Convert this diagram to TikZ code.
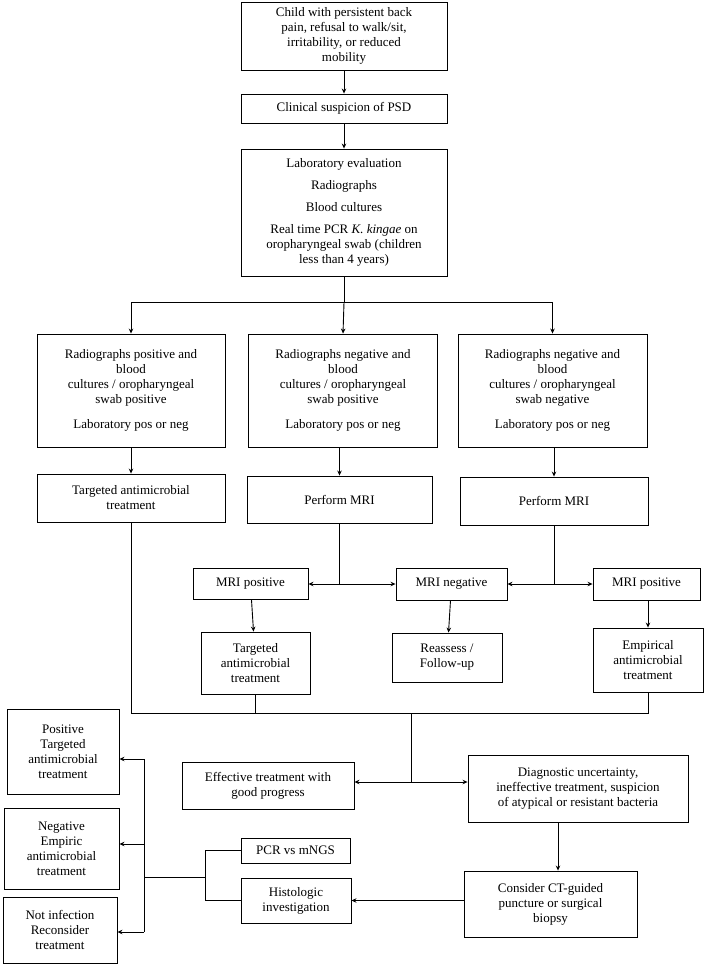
\documentclass[tikz,border=0pt]{standalone}
\usepackage{fontspec}
\setmainfont{Liberation Serif}
\usetikzlibrary{arrows.meta}
\begin{document}
\begin{tikzpicture}[x=1pt,y=-1pt,
  box/.style={draw,line width=0.9pt,align=center,inner sep=1pt,font=\fontsize{13}{15}\selectfont},
  ln/.style={line width=0.9pt},
  arr/.style={ln,-{Stealth[length=5pt,width=4.5pt]}},
  darr/.style={ln,{Stealth[length=5pt,width=4.5pt]}-{Stealth[length=5pt,width=4.5pt]}}]
\useasboundingbox (0,0) rectangle (709,966);
\newcommand{\bx}[6]{\node[box,minimum width=#4,minimum height=#5] (#1) at (#2,#3) {#6};}
\bx{top}{344}{36}{206}{68}{Child with persistent back\\pain, refusal to walk/sit,\\irritability, or reduced\\mobility}
\bx{clin}{344}{108.5}{206}{29}{Clinical suspicion of PSD}
\bx{lab}{344}{212.5}{206}{127}{Laboratory evaluation\\[7pt]Radiographs\\[7pt]Blood cultures\\[7pt]Real time PCR \textit{K. kingae} on\\oropharyngeal swab (children\\less than 4 years)}
\bx{r1}{131}{390.5}{188}{113}{Radiographs positive and\\blood\\cultures / oropharyngeal\\swab positive\\[10pt]Laboratory pos or neg}
\bx{r2}{343}{390.5}{189}{113}{Radiographs negative and\\blood\\cultures / oropharyngeal\\swab positive\\[10pt]Laboratory pos or neg}
\bx{r3}{552.5}{390.5}{189}{113}{Radiographs negative and\\blood\\cultures / oropharyngeal\\swab negative\\[10pt]Laboratory pos or neg}
\bx{t1}{131}{498}{188}{48}{Targeted antimicrobial\\treatment}
\bx{m2}{339.5}{499.5}{185}{47}{Perform MRI}
\bx{m3}{554}{501}{188}{48}{Perform MRI}
\bx{mp1}{250.5}{584}{115}{31}{MRI positive}
\bx{mn}{451.5}{584}{111}{32}{MRI negative}
\bx{mp2}{646.5}{584}{107}{32}{MRI positive}
\bx{tg}{255.5}{663}{109}{62}{Targeted\\antimicrobial\\treatment}
\bx{ra}{447}{657.5}{110}{49}{Reassess /\\Follow-up}
\bx{em}{648}{660}{110}{64}{Empirical\\antimicrobial\\treatment}
\bx{eff}{268}{785.5}{172}{47}{Effective treatment with\\good progress}
\bx{diag}{578}{788.5}{220}{67}{Diagnostic uncertainty,\\ineffective treatment, suspicion\\of atypical or resistant bacteria}
\bx{cons}{550.5}{904}{173}{66}{Consider CT-guided\\puncture or surgical\\biopsy}
\bx{pcr}{295.5}{850.5}{109}{25}{PCR vs mNGS}
\bx{hist}{296}{900.5}{110}{45}{Histologic\\investigation}
\bx{pos}{63}{751.5}{112}{85}{Positive\\Targeted\\antimicrobial\\treatment}
\bx{neg}{61.5}{848.5}{115}{81}{Negative\\Empiric\\antimicrobial\\treatment}
\bx{ni}{60}{930}{114}{66}{Not infection\\Reconsider\\treatment}
% top chain
\draw[arr] (top) -- (clin);
\draw[arr] (clin) -- (lab);
\draw[ln] (lab.south) -- ++(0,26) coordinate (s);
\draw[arr] (s) -| (r1.north);
\draw[arr] (s) -| (r3.north);
\draw[arr] (s) -- (r2.north);
\draw[arr] (r1) -- (t1);
\draw[arr] (r2.south -| m2) -- (m2);
\draw[arr] (r3.south -| m3) -- (m3);
% MRI
\draw[ln] (m2.south) -- (m2.south |- mn.west);
\draw[darr] (mp1.east) -- (mn.west);
\draw[ln] (m3.south) -- (m3.south |- mn.east);
\draw[darr] (mn.east) -- (mp2.west);
\draw[arr] (mp1) -- (tg);
\draw[arr] (mn) -- (ra);
\draw[arr] (mp2.south -| em) -- (em);
% collector
\coordinate (bl) at (411,713);
\draw[ln] (t1.south) -- (t1.south |- bl) -- (em.south |- bl) -- (em.south);
\draw[ln] (tg.south) -- (tg.south |- bl);
\coordinate (c) at (411,782);
\draw[ln] (bl) -- (c);
\draw[darr] (eff.east |- c) -- (diag.west |- c);
\draw[arr] (diag.south -| 558,0) -- (cons.north -| 558,0);
\draw[arr] (hist.east -| cons.west) -- (hist.east);
% bracket
\draw[ln] (pcr.west) -- ++(-35,0) coordinate (pj) |- (hist.west);
\coordinate (j) at (206,877);
\coordinate (b1) at (144,759);
\coordinate (b2) at (144,844);
\coordinate (b3) at (144,932);
\draw[ln] (j) -- (144,877);
\draw[ln] (b1) -- (b3);
\draw[arr] (b1) -- (b1 -| pos.east);
\draw[arr] (b2) -- (b2 -| neg.east);
\draw[arr] (b3) -- (b3 -| ni.east);
\end{tikzpicture}
\end{document}
